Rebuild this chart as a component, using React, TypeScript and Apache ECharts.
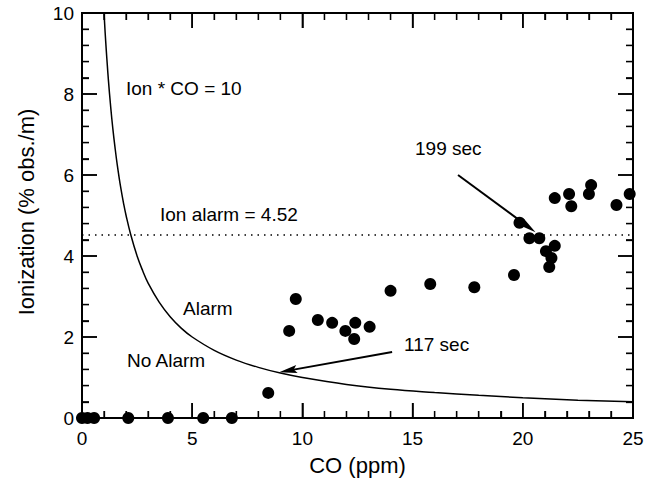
import React, { useEffect, useRef } from "react";
import * as echarts from "echarts";

// Measured points (CO ppm, Ionization % obs./m)
const coValues = [
  0.0, 0.25, 0.55, 2.1, 3.9, 5.5, 6.8, 8.45, 9.4, 9.7, 10.7, 11.35, 11.95, 12.4, 12.35, 13.05,
  14.0, 15.8, 17.8, 19.6, 19.85, 20.3, 20.75, 21.05, 21.45, 21.3, 21.2, 21.45, 22.1, 22.2,
  23.1, 23.0, 24.25, 24.85,
];
const ionValues = [
  0, 0, 0, 0, 0, 0, 0, 0.62, 2.15, 2.94, 2.42, 2.35, 2.15, 2.35, 1.95, 2.25,
  3.14, 3.31, 3.23, 3.53, 4.82, 4.44, 4.44, 4.12, 4.25, 3.95, 3.73, 5.43, 5.53, 5.23,
  5.75, 5.53, 5.26, 5.53,
];

// Threshold curve Ion * CO = 10
const curveCo = [
  1.0, 1.05, 1.1, 1.15, 1.2, 1.3, 1.4, 1.5, 1.6, 1.75, 1.9, 2, 2.2, 2.5, 2.75, 3, 3.5, 4, 4.5, 5,
  6, 7, 8, 9, 10, 12, 14, 16, 18, 20, 22.5, 25,
];
const curveIon = [
  10, 9.52, 9.09, 8.7, 8.33, 7.69, 7.14, 6.67, 6.25, 5.71, 5.26, 5, 4.55, 4, 3.64, 3.33, 2.86, 2.5, 2.22, 2,
  1.67, 1.43, 1.25, 1.11, 1, 0.83, 0.71, 0.63, 0.56, 0.5, 0.44, 0.4,
];

const ionAlarm = 4.52;

// Annotation arrows: [fromCO, fromIon, toCO, toIon]
const arrow117 = [14.07, 1.63, 9.35, 1.17];
const arrow199 = [17.06, 6.0, 20.25, 4.72];

// Axis scales
const X_MIN = 0, X_MAX = 25, X_STEP = 5, X_MINOR = 1;
const Y_MIN = 0, Y_MAX = 10, Y_STEP = 2, Y_MINOR = 0.4;

const FONT = "'Liberation Sans', Arial, Helvetica, sans-serif";
const INK = "#000";
const MAJOR_LEN = 15;
const MINOR_LEN = 7;

const arrowSymbol = "path://M5,0 L10,22 L5,18 L0,22 Z";

function axisStyle() {
  return {
    axisLine: { show: true, onZero: false, lineStyle: { color: INK, width: 2 } },
    axisTick: { show: true, inside: true, length: MAJOR_LEN, lineStyle: { color: INK, width: 1.5 } },
    minorTick: { show: true, splitNumber: 5, length: MINOR_LEN, lineStyle: { color: INK, width: 1.3 } },
    splitLine: { show: false },
  };
}

// tick rows: [value, axis (0 = x, 1 = y), major (1/0)]
function buildTickRows() {
  const rows: number[][] = [];
  const nx = Math.round((X_MAX - X_MIN) / X_MINOR);
  for (let k = 0; k <= nx; k++) {
    const v = X_MIN + k * X_MINOR;
    rows.push([v, 0, k % Math.round(X_STEP / X_MINOR) === 0 ? 1 : 0]);
  }
  const ny = Math.round((Y_MAX - Y_MIN) / Y_MINOR);
  for (let k = 0; k <= ny; k++) {
    const v = +(Y_MIN + k * Y_MINOR).toFixed(4);
    rows.push([v, 1, k % Math.round(Y_STEP / Y_MINOR) === 0 ? 1 : 0]);
  }
  return rows;
}

export default function App() {
  const ref = useRef<HTMLDivElement>(null);

  useEffect(() => {
    if (!ref.current) return;
    const chart = echarts.init(ref.current, null, { renderer: "svg" });

    const scatterData = coValues.map((c, i) => [c, ionValues[i]]);
    const curveData = curveCo.map((c, i) => [c, curveIon[i]]);

    const makeArrow = (a: number[]) => [
      { coord: [a[0], a[1]], symbol: "none" },
      { coord: [a[2], a[3]], symbol: arrowSymbol, symbolSize: 18, symbolKeepAspect: true },
    ];

    const tickStyle = (major: boolean) => ({ stroke: INK, lineWidth: major ? 1.5 : 1.3 });

    chart.setOption({
      animation: false,
      backgroundColor: "#fff",
      textStyle: { fontFamily: FONT, color: INK },
      grid: { left: 82, top: 13, width: 551, height: 405 },
      xAxis: [
        {
          type: "value",
          position: "bottom",
          min: X_MIN,
          max: X_MAX,
          interval: X_STEP,
          ...axisStyle(),
          name: "CO (ppm)",
          nameLocation: "middle",
          nameGap: 36,
          nameTextStyle: { fontSize: 22, color: INK, fontFamily: FONT },
          axisLabel: { show: true, fontSize: 19, color: INK, margin: 11, fontFamily: FONT },
        },
        {
          type: "value",
          position: "top",
          min: X_MIN,
          max: X_MAX,
          interval: X_STEP,
          ...axisStyle(),
          axisLabel: { show: false },
        },
      ],
      yAxis: [
        {
          type: "value",
          position: "left",
          min: Y_MIN,
          max: Y_MAX,
          interval: Y_STEP,
          ...axisStyle(),
          axisLabel: { show: true, fontSize: 19, color: INK, margin: 8, fontFamily: FONT },
        },
        {
          type: "value",
          position: "right",
          min: Y_MIN,
          max: Y_MAX,
          interval: Y_STEP,
          ...axisStyle(),
          axisLabel: { show: false },
        },
      ],
      series: [
        {
          name: "frame ticks",
          type: "custom",
          silent: true,
          clip: false,
          z: 4,
          data: buildTickRows(),
          renderItem: (params: any, api: any) => {
            const v = api.value(0);
            const kind = api.value(1);
            const major = api.value(2) === 1;
            const len = major ? MAJOR_LEN : MINOR_LEN;
            const st = tickStyle(major);
            if (kind === 0) {
              const b = api.coord([v, Y_MIN]);
              const t = api.coord([v, Y_MAX]);
              return {
                type: "group",
                children: [
                  { type: "line", shape: { x1: b[0], y1: b[1], x2: b[0], y2: b[1] - len }, style: st },
                  { type: "line", shape: { x1: t[0], y1: t[1], x2: t[0], y2: t[1] + len }, style: st },
                ],
              };
            }
            const l = api.coord([X_MIN, v]);
            const r = api.coord([X_MAX, v]);
            const children: any[] = [
              { type: "line", shape: { x1: l[0], y1: l[1], x2: l[0] + len, y2: l[1] }, style: st },
              { type: "line", shape: { x1: r[0], y1: r[1], x2: r[0] - len, y2: r[1] }, style: st },
            ];
            if (v === Y_MIN) {
              const lt = api.coord([X_MIN, Y_MAX]);
              const rb = api.coord([X_MAX, Y_MIN]);
              children.push({
                type: "rect",
                shape: { x: lt[0], y: lt[1], width: rb[0] - lt[0], height: rb[1] - lt[1] },
                style: { fill: "none", stroke: INK, lineWidth: 2 },
              });
            }
            return { type: "group", children };
          },
        },
        {
          name: "Ion * CO = 10",
          type: "line",
          data: curveData,
          showSymbol: false,
          smooth: 0.4,
          lineStyle: { color: INK, width: 1.5 },
          silent: true,
          markLine: {
            silent: true,
            symbol: "none",
            label: { show: false },
            lineStyle: { color: INK, type: [1.5, 5], width: 1.5 },
            data: [{ yAxis: ionAlarm }],
          },
        },
        {
          name: "arrows",
          type: "line",
          data: [],
          markLine: {
            silent: true,
            label: { show: false },
            lineStyle: { color: INK, type: "solid", width: 2 },
            itemStyle: { color: INK },
            data: [makeArrow(arrow117), makeArrow(arrow199)],
          },
        },
        {
          name: "data",
          type: "scatter",
          data: scatterData,
          symbol: "circle",
          symbolSize: 12,
          itemStyle: { color: INK, opacity: 1 },
          clip: false,
          z: 5,
        },
      ],
      graphic: [
        {
          type: "text",
          x: 26,
          y: 212,
          rotation: Math.PI / 2,
          style: {
            text: "Ionization (% obs./m)",
            fontSize: 22,
            fontFamily: FONT,
            fill: INK,
            align: "center",
            verticalAlign: "middle",
          },
        },
        { type: "text", left: 126, top: 79, style: { text: "Ion * CO = 10", fontSize: 19, fontFamily: FONT, fill: INK } },
        { type: "text", left: 160, top: 205, style: { text: "Ion alarm = 4.52", fontSize: 19, fontFamily: FONT, fill: INK } },
        { type: "text", left: 415, top: 139, style: { text: "199 sec", fontSize: 19, fontFamily: FONT, fill: INK } },
        { type: "text", left: 404, top: 335, style: { text: "117 sec", fontSize: 19, fontFamily: FONT, fill: INK } },
        { type: "text", left: 183, top: 299, style: { text: "Alarm", fontSize: 19, fontFamily: FONT, fill: INK } },
        { type: "text", left: 127, top: 351, style: { text: "No Alarm", fontSize: 19, fontFamily: FONT, fill: INK } },
      ],
    });

    return () => chart.dispose();
  }, []);

  return (
    <div
      ref={ref}
      style={{ position: "fixed", left: 0, top: 0, width: 647, height: 482, background: "#fff" }}
    />
  );
}
